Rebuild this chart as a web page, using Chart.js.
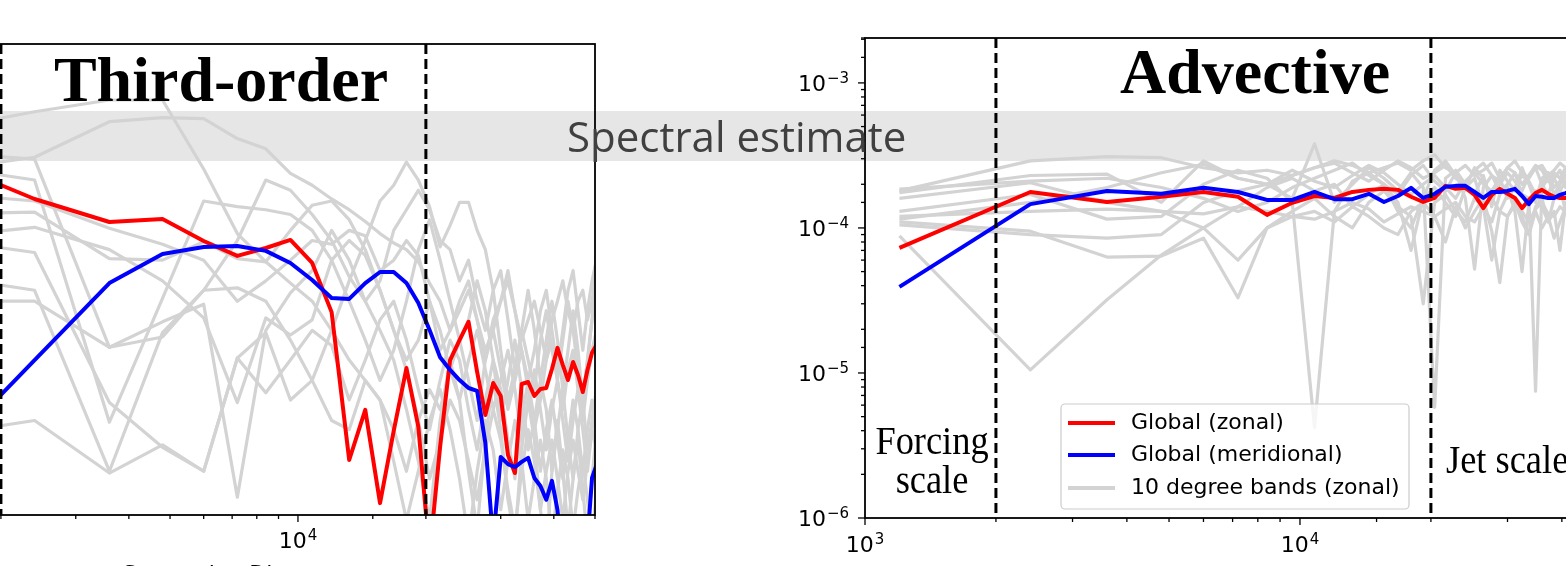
<!DOCTYPE html>
<html>
<head>
<meta charset="utf-8">
<script src="https://cdn.jsdelivr.net/npm/chart.js@4.4.1/dist/chart.umd.min.js"></script>
<style>
html, body { margin: 0; padding: 0; background: #fff; width: 1566px; height: 566px; overflow: hidden; position: relative; }
#band { position: absolute; left: 0; top: 111px; width: 1566px; height: 50px; background: #e6e6e6; }
#c1 { position: absolute; left: -200px; top: 0; }
#c2 { position: absolute; left: 700px; top: 0; }
#spec { position: absolute; left: 567px; top: 111px; height: 50px; line-height: 50px; font-family: "Open Sans"; font-size: 42px; color: #404040; white-space: nowrap; z-index: 5; }
</style>
</head>
<body>
<div id="band"></div>
<canvas id="c1" width="810" height="566"></canvas>
<canvas id="c2" width="920" height="566"></canvas>
<div id="spec">Spectral estimate</div>
<script>
// separation distance (km) of each point
var separation = [1200, 2400, 3600, 4800, 6000, 7200, 8400, 9600, 10800, 12000,
  13200, 14400, 15600, 16800, 18000, 19200, 20400, 21600, 22800, 24000,
  25200, 26400, 27600, 28800, 30000, 31200, 32400, 33600, 34800, 36000,
  37200, 38400, 39600, 40800, 42000, 43200, 44400, 45600, 46800, 48000, 49200, 50400];
var scaleMarks = [2000, 20000]; // forcing scale, jet scale

// left panel: third-order
var thirdZonal = [2.24e-4, 1.03e-4, 7.35e-5, 7.67e-5, 5.56e-5, 4.47e-5, 5.02e-5, 5.65e-5, 4.03e-5, 1.96e-5,
  2.24e-6, 4.67e-6, 1.19e-6, 3.43e-6, 8.63e-6, 3.64e-6, 5.6e-7, 2.71e-6, 9.7e-6, 1.30e-5,
  1.70e-5, 8.15e-6, 4.34e-6, 6.93e-6, 5.73e-6, 2.41e-6, 1.85e-6, 6.83e-6, 7.03e-6, 5.73e-6,
  6.35e-6, 6.44e-6, 8.51e-6, 1.16e-5, 9.02e-6, 7.24e-6, 9.43e-6, 7.79e-6, 6.07e-6, 8.39e-6, 1.08e-5, 1.21e-5];
var thirdMeridional = [1.40e-6, 9.7e-6, 3.00e-5, 4.59e-5, 5.09e-5, 5.17e-5, 4.81e-5, 4.03e-5, 3.14e-5, 2.41e-5,
  2.38e-5, 3.00e-5, 3.53e-5, 3.53e-5, 3.00e-5, 2.24e-5, 1.51e-5, 1.01e-5, 8.39e-6, 7.24e-6,
  6.44e-6, 6.17e-6, 2.88e-6, 6.9e-7, 2.34e-6, 2.11e-6, 2.02e-6, 2.18e-6, 2.31e-6, 1.72e-6,
  1.53e-6, 1.25e-6, 1.65e-6, 1.08e-6, 4.5e-7, 2.9e-7, 2.9e-7, 2.9e-7, 3.9e-7, 6.9e-7, 1.72e-6, 2.08e-6];
var thirdBands = [
  [2.6e-4, 3.7e-4, 4.4e-4, 4.4e-4, 1.6e-4, 6.2e-5, 4.1e-5, 3.0e-5, 2.3e-5, 1.5e-5,
   9.7e-6, 7.2e-6, 5.4e-6, 3.5e-6, 1.9e-6, 4.0e-6, 6.3e-6, 4.7e-6, 8.4e-6, 1.3e-5,
   7.2e-6, 4.0e-6, 9.7e-6, 1.5e-5, 8.4e-6, 4.7e-6, 7.2e-6, 1.12e-5, 6.3e-6, 3.5e-6,
   5.4e-6, 9.7e-6, 1.3e-5, 7.2e-6, 4.7e-6, 8.4e-6, 1.12e-5, 6.3e-6, 4.0e-6, 7.2e-6, 1.12e-5, 1.5e-5],
  [1.46e-4, 1.9e-4, 3.2e-4, 3.4e-4, 3.35e-4, 2.5e-4, 2.15e-4, 1.5e-4, 1.26e-4, 1.03e-4,
   8.8e-5, 7.4e-5, 6.2e-5, 5.4e-5, 4.9e-5, 4.1e-5, 3.0e-5, 2.3e-5, 1.5e-5, 2.0e-5,
   2.7e-5, 1.75e-5, 1.12e-5, 1.5e-5, 2.3e-5, 3.1e-5, 2.0e-5, 1.3e-5, 1.75e-5, 2.3e-5,
   1.5e-5, 9.7e-6, 1.75e-5, 2.3e-5, 3.1e-5, 2.0e-5, 1.5e-5, 2.3e-5, 2.7e-5, 1.75e-5, 2.3e-5, 3.6e-5],
  [2.1e-4, 1.85e-4, 1.17e-5, 1.36e-5, 2.7e-5, 5.6e-5, 1.36e-4, 1.17e-4, 8.2e-5, 5.6e-5,
   3.3e-5, 2.3e-5, 3.1e-5, 6.5e-5, 8.8e-5, 1.17e-4, 8.8e-5, 5.6e-5, 4.9e-5, 3.1e-5,
   4.2e-5, 2.3e-5, 1.5e-5, 2.7e-5, 1.12e-5, 5.4e-6, 8.4e-6, 1.5e-5, 9.7e-6, 6.3e-6,
   1.3e-5, 2.0e-5, 1.12e-5, 7.2e-6, 1.3e-5, 2.3e-5, 1.5e-5, 8.4e-6, 5.4e-6, 9.7e-6, 1.75e-5, 2.3e-5],
  [1.8e-4, 1.36e-4, 3.9e-6, 2.4e-5, 1.0e-4, 9.2e-5, 8.8e-5, 8.2e-5, 6.5e-5, 4.2e-5,
   2.3e-5, 1.3e-5, 7.2e-6, 1.12e-5, 2.3e-5, 4.9e-5, 7.6e-5, 4.2e-5, 2.3e-5, 1.3e-5,
   1.75e-5, 3.1e-5, 2.0e-5, 9.7e-6, 4.0e-6, 7.2e-6, 1.3e-5, 6.3e-6, 2.6e-6, 4.0e-6,
   7.2e-6, 4.7e-6, 1.9e-6, 3.5e-6, 6.3e-6, 3.0e-6, 1.7e-6, 3.5e-6, 5.4e-6, 2.6e-6, 4.0e-6, 6.3e-6],
  [8.2e-5, 8.5e-5, 4.3e-5, 4.2e-5, 5.5e-5, 4.3e-5, 4.1e-5, 6.5e-5, 9.4e-5, 1.0e-4,
   7.6e-5, 4.9e-5, 2.7e-5, 1.5e-5, 9.7e-6, 1.3e-5, 2.3e-5, 1.5e-5, 8.4e-6, 5.4e-6,
   9.7e-6, 1.5e-5, 8.4e-6, 4.7e-6, 7.2e-6, 1.12e-5, 6.3e-6, 3.0e-6, 5.4e-6, 8.4e-6,
   4.7e-6, 2.6e-6, 4.7e-6, 7.2e-6, 4.0e-6, 2.2e-6, 4.0e-6, 6.3e-6, 3.5e-6, 1.9e-6, 3.5e-6, 5.4e-6],
  [5.6e-5, 6.8e-5, 4.9e-5, 3.1e-5, 1.8e-5, 5.2e-6, 1.8e-5, 1.4e-5, 1.75e-5, 4.2e-5,
   5.6e-5, 4.5e-5, 2.7e-5, 1.5e-5, 8.4e-6, 4.0e-6, 1.7e-6, 3.0e-6, 5.4e-6, 4.0e-6,
   2.2e-6, 1.25e-6, 2.6e-6, 4.7e-6, 3.0e-6, 1.44e-6, 8.1e-7, 1.9e-6, 3.5e-6, 2.2e-6,
   1.08e-6, 1.9e-6, 3.0e-6, 1.7e-6, 9.3e-7, 1.9e-6, 3.0e-6, 1.9e-6, 1.25e-6, 2.2e-6, 3.5e-6, 2.6e-6],
  [6.1e-5, 4.7e-5, 5.2e-6, 2.7e-6, 1.9e-6, 1.0e-5, 6.0e-6, 9.7e-6, 1.5e-5, 1.2e-5,
   5.4e-6, 9.7e-6, 1.75e-5, 2.3e-5, 1.3e-5, 6.3e-6, 3.5e-6, 7.2e-6, 1.3e-5, 9.7e-6,
   4.7e-6, 2.6e-6, 5.4e-6, 9.7e-6, 6.3e-6, 3.0e-6, 1.7e-6, 4.0e-6, 7.2e-6, 4.0e-6,
   1.9e-6, 3.5e-6, 5.4e-6, 3.0e-6, 1.7e-6, 3.0e-6, 5.4e-6, 3.5e-6, 1.9e-6, 3.5e-6, 5.4e-6, 4.0e-6],
  [3.6e-5, 2.7e-5, 1.9e-6, 1.45e-5, 2.7e-5, 2.8e-5, 2.3e-5, 1.3e-5, 7.2e-6, 4.0e-6,
   3.5e-6, 7.2e-6, 5.4e-6, 2.2e-6, 9.3e-7, 1.9e-6, 4.0e-6, 6.3e-6, 3.5e-6, 1.7e-6,
   7.0e-7, 1.9e-6, 4.0e-6, 2.6e-6, 1.08e-6, 2.2e-6, 4.0e-6, 2.2e-6, 9.3e-7, 1.7e-6,
   3.0e-6, 1.7e-6, 7.0e-7, 1.44e-6, 2.6e-6, 1.7e-6, 8.1e-7, 1.44e-6, 2.2e-6, 1.25e-6, 7.0e-7, 1.44e-6],
  [3.0e-6, 4.0e-6, 1.85e-6, 2.8e-6, 1.9e-6, 1.0e-5, 1.45e-5, 5.4e-6, 7.2e-6, 1.5e-5,
   3.1e-5, 5.6e-5, 1.0e-4, 1.26e-4, 1.77e-4, 1.36e-4, 9.2e-5, 5.1e-5, 7.0e-5, 9.8e-5,
   9.8e-5, 6.5e-5, 4.9e-5, 2.7e-5, 3.6e-5, 1.75e-5, 8.4e-6, 1.5e-5, 2.7e-5, 1.5e-5,
   7.2e-6, 1.3e-5, 2.3e-5, 1.3e-5, 6.3e-6, 1.12e-5, 2.0e-5, 1.12e-5, 5.4e-6, 9.7e-6, 1.75e-5, 4.9e-5],
  [2.3e-5, 2.3e-5, 1.17e-5, 1.7e-5, 2.2e-5, 1.3e-6, 1.5e-5, 2.6e-5, 3.6e-5, 6.5e-5,
   4.2e-5, 2.3e-5, 1.5e-5, 9.7e-6, 4.7e-6, 2.2e-6, 9.3e-7, 4.0e-6, 9.7e-6, 5.4e-6,
   1.9e-6, 8.1e-7, 3.0e-6, 7.2e-6, 3.5e-6, 1.25e-6, 7.0e-7, 2.6e-6, 5.4e-6, 3.0e-6,
   1.08e-6, 6.0e-7, 1.9e-6, 4.0e-6, 1.9e-6, 8.1e-7, 1.7e-6, 3.0e-6, 1.44e-6, 7.0e-7, 1.7e-6, 3.5e-6],
  [1.17e-4, 1.0e-4, 6.7e-5, 5.3e-5, 4.2e-5, 2.3e-5, 3.1e-5, 4.2e-5, 5.6e-5, 5.3e-5,
   6.5e-5, 6.0e-5, 3.6e-5, 4.2e-5, 5.6e-5, 4.5e-5, 2.3e-5, 1.12e-5, 1.5e-5, 2.3e-5,
   3.1e-5, 1.75e-5, 9.7e-6, 1.75e-5, 2.3e-5, 3.6e-5, 2.0e-5, 1.12e-5, 7.2e-6, 1.12e-5,
   2.0e-5, 2.7e-5, 1.5e-5, 8.4e-6, 1.5e-5, 2.7e-5, 3.6e-5, 2.0e-5, 1.12e-5, 2.0e-5, 3.1e-5, 4.2e-5]
];

// right panel: advective
var advZonal = [7.28e-5, 1.77e-4, 1.51e-4, 1.64e-4, 1.77e-4, 1.64e-4, 1.23e-4, 1.49e-4, 1.66e-4, 1.61e-4,
  1.77e-4, 1.83e-4, 1.86e-4, 1.83e-4, 1.64e-4, 1.51e-4, 1.61e-4, 1.95e-4, 1.86e-4, 1.89e-4,
  1.69e-4, 1.37e-4, 1.69e-4, 1.86e-4, 1.72e-4, 1.61e-4, 1.37e-4, 1.56e-4, 1.74e-4, 1.83e-4,
  1.72e-4, 1.64e-4, 1.61e-4, 1.61e-4, 1.65e-4, 1.75e-4, 1.55e-4, 1.7e-4, 1.6e-4, 1.8e-4, 1.65e-4, 1.7e-4];
var advMeridional = [3.92e-5, 1.46e-4, 1.80e-4, 1.72e-4, 1.89e-4, 1.77e-4, 1.56e-4, 1.56e-4, 1.77e-4, 1.58e-4,
  1.58e-4, 1.72e-4, 1.51e-4, 1.66e-4, 1.89e-4, 1.61e-4, 1.72e-4, 1.92e-4, 1.95e-4, 1.95e-4,
  1.77e-4, 1.61e-4, 1.77e-4, 1.77e-4, 1.80e-4, 1.86e-4, 1.66e-4, 1.46e-4, 1.66e-4, 1.64e-4,
  1.61e-4, 1.61e-4, 1.69e-4, 1.74e-4, 1.8e-4, 1.7e-4, 1.62e-4, 1.75e-4, 1.68e-4, 1.6e-4, 1.72e-4, 1.7e-4];
var advBands = [
  [1.8e-4, 2.9e-4, 3.1e-4, 3.05e-4, 2.6e-4, 2.4e-4, 2.5e-4, 2.3e-4, 2.6e-4, 2.9e-4,
   2.7e-4, 2.4e-4, 2.6e-4, 2.8e-4, 2.5e-4, 2.9e-4, 3.2e-4, 2.6e-4, 2.4e-4, 2.7e-4,
   2.3e-4, 2.5e-4, 2.8e-4, 2.2e-4, 2.6e-4, 2.9e-4, 2.4e-4, 2.2e-4, 2.6e-4, 2.7e-4,
   2.3e-4, 2.5e-4, 2.8e-4, 2.6e-4, 2.4e-4, 2.7e-4, 2.5e-4, 2.3e-4, 2.6e-4, 2.8e-4, 2.5e-4, 2.4e-4],
  [1.75e-4, 2.3e-4, 2.35e-4, 1.5e-4, 2.9e-4, 2.2e-4, 2.0e-4, 1.6e-4, 3.8e-4, 1.5e-4,
   2.0e-4, 2.6e-4, 2.2e-4, 1.8e-4, 2.4e-4, 1.9e-4, 5.8e-6, 2.2e-4, 2.5e-4, 2.0e-4,
   1.7e-4, 2.3e-4, 1.4e-4, 2.5e-4, 2.1e-4, 1.8e-4, 2.6e-4, 2.0e-4, 1.5e-4, 2.2e-4,
   2.4e-4, 1.9e-4, 2.1e-4, 2.5e-4, 2.2e-4, 1.8e-4, 2.3e-4, 2.0e-4, 1.6e-4, 2.2e-4, 2.4e-4, 2.0e-4],
  [1.3e-4, 1.7e-4, 1.15e-4, 1.2e-4, 2.0e-4, 2.5e-4, 2.2e-4, 1.5e-4, 4.2e-6, 1.3e-4,
   2.1e-4, 2.4e-4, 2.0e-4, 1.7e-4, 2.3e-4, 2.7e-4, 2.1e-4, 1.8e-4, 2.4e-4, 1.6e-4,
   5.2e-5, 1.9e-4, 2.3e-4, 1.8e-4, 2.0e-4, 2.4e-4, 1.7e-4, 1.6e-4, 7.5e-6, 1.9e-4,
   2.2e-4, 1.7e-4, 2.0e-4, 2.3e-4, 1.8e-4, 1.5e-4, 2.1e-4, 1.9e-4, 1.6e-4, 2.0e-4, 2.2e-4, 1.8e-4],
  [8.8e-5, 1.05e-5, 3.2e-5, 6.5e-5, 1.0e-4, 1.4e-4, 1.9e-4, 2.2e-4, 1.8e-4, 2.0e-4,
   1.4e-4, 1.7e-4, 2.0e-4, 1.3e-4, 1.0e-4, 1.6e-4, 1.9e-4, 1.5e-4, 1.2e-4, 1.9e-4,
   2.2e-4, 1.4e-4, 1.1e-4, 1.7e-4, 1.9e-4, 1.3e-4, 5.0e-5, 1.5e-4, 1.8e-4, 1.4e-4,
   1.1e-4, 1.6e-4, 1.9e-4, 1.3e-4, 1.0e-4, 1.5e-4, 1.8e-4, 1.4e-4, 1.2e-4, 1.7e-4, 1.5e-4, 1.3e-4],
  [1.1e-4, 9.5e-5, 6.3e-5, 6.4e-5, 8.5e-5, 3.3e-5, 1.0e-4, 1.2e-4, 1.3e-4, 1.1e-4,
   1.4e-4, 1.2e-4, 1.0e-4, 9.0e-5, 1.3e-4, 1.5e-4, 1.2e-4, 8.0e-5, 1.4e-4, 1.0e-4,
   1.3e-4, 1.6e-4, 9.5e-5, 4.2e-5, 1.2e-4, 1.5e-4, 1.1e-4, 9.0e-5, 1.3e-4, 1.0e-4,
   1.2e-4, 8.5e-5, 1.1e-4, 1.4e-4, 1.0e-4, 8.0e-5, 1.2e-4, 1.3e-4, 9.0e-5, 1.1e-4, 1.0e-4, 1.2e-4],
  [1.85e-4, 2.1e-4, 2.2e-4, 1.9e-4, 1.6e-4, 1.3e-4, 1.5e-4, 1.9e-4, 2.2e-4, 2.5e-4,
   2.8e-4, 2.3e-4, 2.0e-4, 1.5e-4, 7.0e-5, 1.6e-4, 2.5e-4, 2.9e-4, 2.3e-4, 1.9e-4,
   2.6e-4, 2.2e-4, 1.6e-4, 2.0e-4, 2.4e-4, 2.1e-4, 1.8e-4, 2.3e-4, 2.6e-4, 2.0e-4,
   1.7e-4, 2.2e-4, 2.5e-4, 1.9e-4, 2.1e-4, 2.4e-4, 2.0e-4, 1.7e-4, 2.3e-4, 2.1e-4, 1.9e-4, 2.2e-4],
  [1.2e-4, 1.3e-4, 1.35e-4, 1.3e-4, 1.25e-4, 1.4e-4, 1.3e-4, 1.2e-4, 1.15e-4, 1.3e-4,
   1.5e-4, 1.35e-4, 1.1e-4, 1.25e-4, 1.4e-4, 1.3e-4, 1.2e-4, 1.35e-4, 1.5e-4, 1.2e-4,
   1.1e-4, 1.4e-4, 1.6e-4, 1.3e-4, 1.2e-4, 1.45e-4, 1.3e-4, 1.1e-4, 1.35e-4, 1.5e-4,
   1.25e-4, 1.2e-4, 1.4e-4, 1.3e-4, 1.15e-4, 1.35e-4, 1.45e-4, 1.2e-4, 1.3e-4, 1.4e-4, 1.25e-4, 1.3e-4],
  [1.05e-4, 9.0e-5, 8.5e-5, 9.0e-5, 1.5e-4, 1.8e-4, 2.0e-4, 2.5e-4, 2.1e-4, 1.9e-4,
   2.3e-4, 2.7e-4, 2.4e-4, 2.0e-4, 1.7e-4, 2.0e-4, 2.3e-4, 1.9e-4, 1.6e-4, 2.1e-4,
   2.4e-4, 2.0e-4, 1.8e-4, 2.2e-4, 1.6e-4, 1.9e-4, 2.3e-4, 2.1e-4, 1.7e-4, 2.0e-4,
   2.4e-4, 2.2e-4, 1.8e-4, 2.1e-4, 1.9e-4, 2.3e-4, 2.0e-4, 1.7e-4, 2.1e-4, 2.4e-4, 2.0e-4, 1.8e-4],
  [1.15e-4, 1.5e-4, 1.9e-4, 2.4e-4, 2.75e-4, 2.2e-4, 2.0e-4, 2.3e-4, 2.6e-4, 2.8e-4,
   2.4e-4, 2.1e-4, 2.5e-4, 2.9e-4, 2.6e-4, 2.2e-4, 2.4e-4, 2.7e-4, 2.2e-4, 2.0e-4,
   2.5e-4, 2.8e-4, 2.3e-4, 2.1e-4, 2.6e-4, 2.4e-4, 2.0e-4, 2.3e-4, 2.7e-4, 2.5e-4,
   2.1e-4, 2.4e-4, 2.2e-4, 2.6e-4, 2.3e-4, 2.0e-4, 2.4e-4, 2.7e-4, 2.2e-4, 2.5e-4, 2.3e-4, 2.1e-4],
  [1.6e-4, 2.05e-4, 1.5e-4, 1.3e-4, 1.0e-4, 6.0e-5, 1.0e-4, 1.3e-4, 1.6e-4, 1.2e-4,
   1.0e-4, 1.5e-4, 1.8e-4, 1.4e-4, 1.2e-4, 3.0e-5, 1.5e-4, 1.7e-4, 1.3e-4, 1.1e-4,
   1.6e-4, 1.4e-4, 6.0e-5, 1.3e-4, 1.7e-4, 1.5e-4, 1.2e-4, 9.0e-5, 1.4e-4, 1.6e-4,
   1.1e-4, 1.3e-4, 7.0e-5, 1.5e-4, 1.2e-4, 1.4e-4, 1.6e-4, 1.2e-4, 1.0e-4, 1.5e-4, 1.3e-4, 1.4e-4]
];

var legendLabels = ["Global (zonal)", "Global (meridional)", "10 degree bands (zonal)"];
var legendColors = ["#ff0000", "#0000ff", "#d3d3d3"];

Chart.defaults.font.family = "DejaVu Sans";
Chart.defaults.color = "#000";

function isDecade(v) {
  var e = Math.log10(v);
  return Math.abs(e - Math.round(e)) < 1e-6;
}

// "10" with a raised exponent, like mathtext
function powerText(ctx, value, x, y, align) {
  var exp = String(Math.round(Math.log10(value))).replace("-", "\u2212");
  ctx.font = "22px 'DejaVu Sans'";
  var wb = ctx.measureText("10").width;
  ctx.font = "15px 'DejaVu Sans'";
  var we = ctx.measureText(exp).width;
  var x0 = align === "right" ? x - wb - we - 1 : x - (wb + we + 1) / 2;
  ctx.textAlign = "left";
  ctx.textBaseline = "alphabetic";
  ctx.font = "22px 'DejaVu Sans'";
  ctx.fillText("10", x0, y);
  ctx.font = "15px 'DejaVu Sans'";
  ctx.fillText(exp, x0 + wb + 1, y - 8);
}

function pairs(vals) {
  return vals.map(function (v, i) { return { x: separation[i], y: v }; });
}

function makeSets(zonal, meridional, bands) {
  var sets = [
    { label: legendLabels[1], data: pairs(meridional), borderColor: legendColors[1], borderWidth: 4 },
    { label: legendLabels[0], data: pairs(zonal), borderColor: legendColors[0], borderWidth: 4 }
  ];
  bands.forEach(function (b) {
    sets.push({ label: legendLabels[2], data: pairs(b), borderColor: legendColors[2], borderWidth: 3.2 });
  });
  return sets;
}

// squeezed serif annotation text
function serifText(ctx, text, x, y, font, sx, align) {
  ctx.save();
  ctx.font = font;
  ctx.fillStyle = "#000";
  ctx.textAlign = align || "center";
  ctx.textBaseline = "alphabetic";
  ctx.translate(x, y);
  ctx.scale(sx, 1);
  ctx.fillText(text, 0, 0);
  ctx.restore();
}

function panelPlugin(opts) {
  return {
    id: "panel",
    afterDraw: function (chart) {
      var ctx = chart.ctx, a = chart.chartArea, xs = chart.scales.x, ys = chart.scales.y;
      ctx.save();
      // forcing / jet scale markers
      ctx.strokeStyle = "#000";
      ctx.lineWidth = 3;
      ctx.setLineDash([10, 5]);
      scaleMarks.forEach(function (m) {
        var px = xs.getPixelForValue(m);
        ctx.beginPath();
        ctx.moveTo(px, a.top);
        ctx.lineTo(px, a.bottom);
        ctx.stroke();
      });
      ctx.setLineDash([]);
      // frame
      ctx.lineWidth = 1.8;
      ctx.strokeRect(a.left, a.top, a.right - a.left, a.bottom - a.top);
      // tick marks (long on decades) and decade labels
      ctx.lineWidth = 1.3;
      ctx.fillStyle = "#000";
      xs.ticks.forEach(function (t) {
        var px = xs.getPixelForValue(t.value);
        if (px < a.left - 1 || px > a.right + 1) return;
        var major = isDecade(t.value);
        ctx.beginPath();
        ctx.moveTo(px, a.bottom);
        ctx.lineTo(px, a.bottom + (major ? 7 : 4));
        ctx.stroke();
        if (major) powerText(ctx, t.value, px, opts.xLabelY, "center");
      });
      if (opts.yTicks) {
        ys.ticks.forEach(function (t) {
          var py = ys.getPixelForValue(t.value);
          if (py < a.top - 1 || py > a.bottom + 1) return;
          var major = isDecade(t.value);
          ctx.beginPath();
          ctx.moveTo(a.left, py);
          ctx.lineTo(a.left - (major ? 7 : 4), py);
          ctx.stroke();
          if (major) powerText(ctx, t.value, a.left - 16, py + 8, "right");
        });
      }
      // axis title (mostly below the crop)
      ctx.font = "22px 'DejaVu Sans'";
      ctx.textAlign = "center";
      ctx.fillText("Separation Distance", (a.left + a.right) / 2, opts.xTitleY);
      opts.extra(ctx, a);
      ctx.restore();
    }
  };
}

function baseOptions(pad, xHeight, yOpts) {
  return {
    responsive: false,
    animation: false,
    layout: { padding: pad },
    elements: { point: { radius: 0 }, line: { tension: 0, borderJoinStyle: "round", fill: false } },
    plugins: { legend: { display: false }, tooltip: { enabled: false } },
    scales: {
      x: {
        type: "logarithmic", min: 1000, max: 50000,
        grid: { display: false, drawTicks: false }, border: { display: false },
        ticks: { display: false, autoSkip: false, maxRotation: 0 },
        afterFit: function (s) { s.height = xHeight; }
      },
      y: yOpts
    }
  };
}

// left panel
new Chart(document.getElementById("c1"), {
  type: "line",
  data: { datasets: makeSets(thirdZonal, thirdMeridional, thirdBands) },
  options: baseOptions({ left: 73, right: 15, top: 44, bottom: 0 }, 51,
    { type: "logarithmic", display: false, min: 1e-6, max: 1e-3 }),
  plugins: [panelPlugin({
    yTicks: false,
    xLabelY: 548,
    xTitleY: 581,
    extra: function (ctx, a) {
      serifText(ctx, "Third-order", 421, 101, "bold 64px 'Liberation Serif'", 1);
    }
  })]
});

// right panel
new Chart(document.getElementById("c2"), {
  type: "line",
  data: { datasets: makeSets(advZonal, advMeridional, advBands) },
  options: baseOptions({ left: 0, right: 16, top: 38, bottom: 0 }, 48, {
    type: "logarithmic", min: 1e-6, max: 2.04e-3,
    grid: { display: false, drawTicks: false }, border: { display: false },
    ticks: { display: false, autoSkip: false },
    afterFit: function (s) { s.width = 165; }
  }),
  plugins: [panelPlugin({
    yTicks: true,
    xLabelY: 552,
    xTitleY: 585,
    extra: function (ctx, a) {
      serifText(ctx, "Advective", 555, 93, "bold 64px 'Liberation Serif'", 1);
      serifText(ctx, "Forcing", 232, 454, "40px 'Liberation Serif'", 0.91);
      serifText(ctx, "scale", 232, 493, "40px 'Liberation Serif'", 0.91);
      serifText(ctx, "Jet scale", 746, 473, "40px 'Liberation Serif'", 0.91, "left");
      // legend box
      ctx.save();
      ctx.fillStyle = "rgba(255,255,255,0.8)";
      ctx.strokeStyle = "#cccccc";
      ctx.lineWidth = 1.2;
      ctx.beginPath();
      ctx.roundRect(361, 404, 348, 105, 4);
      ctx.fill();
      ctx.stroke();
      ctx.font = "22px 'DejaVu Sans'";
      ctx.textAlign = "left";
      ctx.textBaseline = "middle";
      var rows = [423, 455, 488];
      legendLabels.forEach(function (lab, i) {
        ctx.strokeStyle = legendColors[i];
        ctx.lineWidth = 4;
        ctx.beginPath();
        ctx.moveTo(368, rows[i]);
        ctx.lineTo(415, rows[i]);
        ctx.stroke();
        ctx.fillStyle = "#000";
        ctx.fillText(lab, 431, rows[i]);
      });
      ctx.restore();
    }
  })]
});
</script>
</body>
</html>
